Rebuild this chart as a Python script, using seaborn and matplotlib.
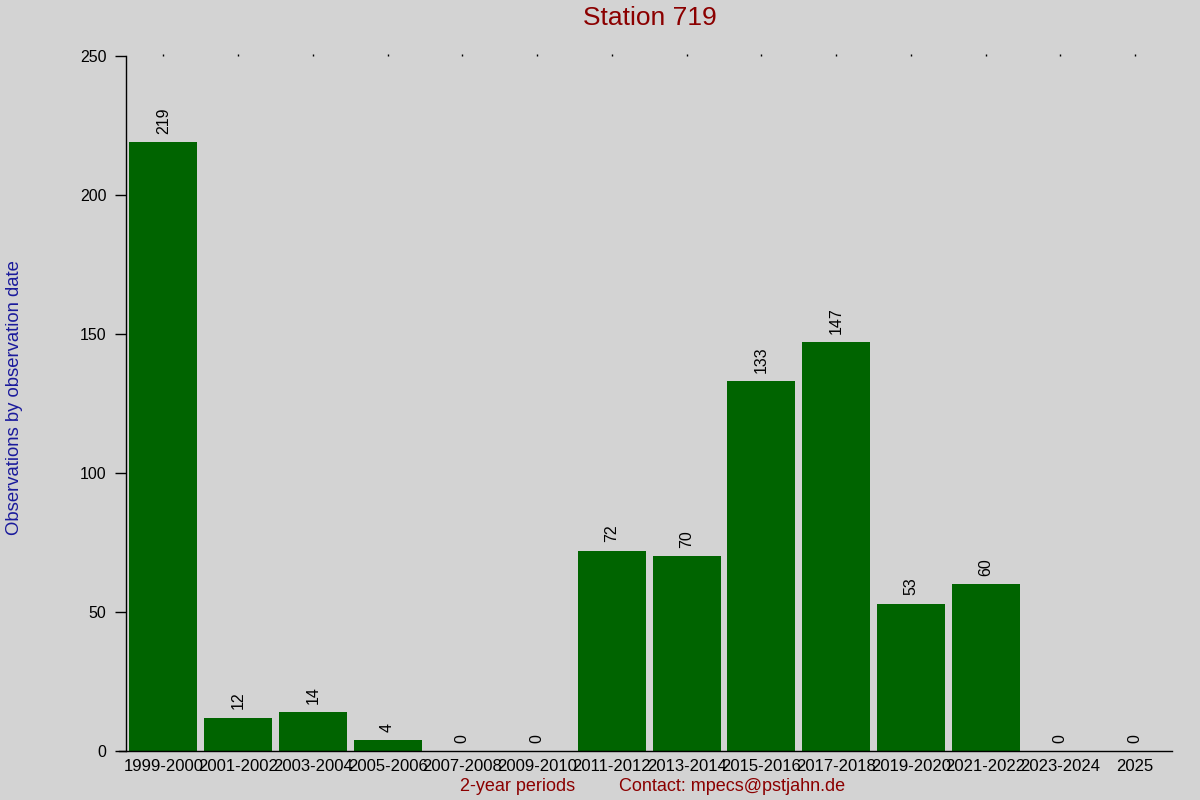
import matplotlib
matplotlib.use("Agg")
import matplotlib.pyplot as plt
import seaborn as sns
import pandas as pd

periods = ["1999-2000", "2001-2002", "2003-2004", "2005-2006", "2007-2008",
           "2009-2010", "2011-2012", "2013-2014", "2015-2016", "2017-2018",
           "2019-2020", "2021-2022", "2023-2024", "2025"]
counts = [219, 12, 14, 4, 0, 0, 72, 70, 133, 147, 53, 60, 0, 0]
yticks = [0, 50, 100, 150, 200, 250]

df = pd.DataFrame({"period": periods, "count": counts})

sns.set_theme(style="ticks")
plt.rcParams['font.family'] = ['Liberation Sans', 'DejaVu Sans']
bg = "#d3d3d3"

fig = plt.figure(figsize=(12, 8), dpi=100, facecolor=bg)
ax = fig.add_axes([0.105, 0.06125, 0.872, 0.86875])
ax.set_facecolor(bg)

sns.barplot(data=df, x="period", y="count", color="#006400", saturation=1,
            width=0.91, linewidth=0, edgecolor="none", ax=ax)

ax.set_xlim(-0.5, len(periods) - 0.5)
ax.set_ylim(0, 250)
ax.set_yticks(yticks)
ax.set_yticklabels([str(t) for t in yticks], fontsize=11.5, color="black")
ax.tick_params(axis="y", length=8, width=1, color="black", pad=6)
ax.tick_params(axis="x", length=0, pad=6, labelsize=12, labelcolor="black")

for i, v in enumerate(counts):
    ax.text(i, v + 3, str(v), rotation=90, ha="center", va="bottom",
            fontsize=11.5, color="black")

# top small tick dots
ax2 = ax.secondary_xaxis("top")
ax2.set_xticks(range(len(periods)))
ax2.set_xticklabels([])
ax2.tick_params(length=1.2, width=1, color="black")
ax2.spines["top"].set_visible(False)

for s in ["top", "right"]:
    ax.spines[s].set_visible(False)
ax.spines["left"].set_color("black")
ax.spines["bottom"].set_color("black")
ax.spines["left"].set_linewidth(1)
ax.spines["bottom"].set_linewidth(1)
ax.spines["bottom"].set_bounds(-0.6, len(periods) - 0.5)

ax.set_xlabel("")
ax.set_ylabel("")
fig.text(0.5415, 0.978, "Station 719", ha="center", va="center",
         fontsize=19, color="#8b0000")
fig.text(0.012, 0.503, "Observations by observation date", rotation=90,
         ha="center", va="center", fontsize=13.3, color="#1a1a9c")
fig.text(0.431, 0.017, "2-year periods", ha="center", va="center",
         fontsize=13, color="#8b0000")
fig.text(0.61, 0.017, "Contact: mpecs@pstjahn.de", ha="center", va="center",
         fontsize=13, color="#8b0000")

fig.savefig("out.png", dpi=100, facecolor=bg)
